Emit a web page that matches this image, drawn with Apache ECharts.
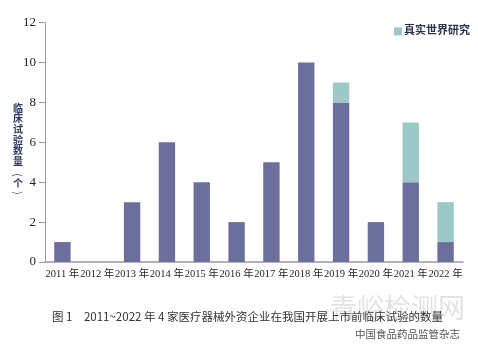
<!DOCTYPE html>
<html><head><meta charset="utf-8">
<script src="https://cdn.jsdelivr.net/npm/echarts@6/dist/echarts.min.js"></script>
<style>html,body{margin:0;padding:0;background:#fff}#c{width:478px;height:356px}</style>
</head><body><div id="c"></div>
<script>
const categories = ['2011 年','2012 年','2013 年','2014 年','2015 年','2016 年','2017 年','2018 年','2019 年','2020 年','2021 年','2022 年'];
const otherTrials = [1,0,3,6,4,2,5,10,8,2,4,1];
const realWorld = [0,0,0,0,0,0,0,0,1,0,3,2];
const yTicks = [0,2,4,6,8,10,12];
const legendName = '真实世界研究';
const yNameChars = ['临','床','试','验','数','量'];
const caption = '图 1　2011~2022 年 4 家医疗器械外资企业在我国开展上市前临床试验的数量';

const chart = echarts.init(document.getElementById('c'));
const serif = '"Liberation Serif","DejaVu Serif","Noto Sans CJK SC",serif';
const cjk = '"Noto Sans CJK SC",sans-serif';
const nameStyle = {fontFamily: cjk, fontSize: 10, fontWeight: 'bold', fill: '#2c3a60', align: 'center', verticalAlign: 'middle'};
const nameGraphics = yNameChars.map((ch, i) => ({type: 'text', x: 18, y: 108 + i * 10.6, style: Object.assign({text: ch}, nameStyle)}));
nameGraphics.push({type: 'text', x: 18, y: 175, rotation: -Math.PI / 2, style: Object.assign({text: '('}, nameStyle, {fontWeight: 'normal'})});
nameGraphics.push({type: 'text', x: 18, y: 183, style: Object.assign({text: '个'}, nameStyle)});
nameGraphics.push({type: 'text', x: 18, y: 193, rotation: -Math.PI / 2, style: Object.assign({text: ')'}, nameStyle, {fontWeight: 'normal'})});

chart.setOption({
  animation: false,
  grid: {left: 45, right: 15, top: 22.7, bottom: 94},
  legend: {
    data: [legendName], left: 389, top: 21, itemWidth: 8, itemHeight: 8, itemGap: 2,
    icon: 'rect',
    textStyle: {fontFamily: serif, fontSize: 11, fontWeight: 'bold', color: '#2c3350', padding: [0,0,0,-3]}
  },
  xAxis: {
    type: 'category', data: categories,
    axisLine: {lineStyle: {color: '#9a9a9a', width: 1.5}},
    axisTick: {show: false},
    axisLabel: {interval: 0, fontFamily: serif, fontSize: 10.5, color: '#1e1e2a', margin: 7}
  },
  yAxis: {
    type: 'value', min: 0, max: 12, interval: 2,
    axisLine: {show: true, lineStyle: {color: '#9a9a9a', width: 1}},
    axisTick: {show: true, length: 6, lineStyle: {color: '#9a9a9a'}},
    splitLine: {show: false},
    axisLabel: {fontFamily: serif, fontSize: 13, color: '#1e1e2a', margin: 9,
      formatter: v => yTicks.includes(v) ? String(v) : ''}
  },
  series: [
    {name: '其他', type: 'bar', stack: 's', data: otherTrials, barWidth: '47%',
     itemStyle: {color: '#6c6f9c'}},
    {name: legendName, type: 'bar', stack: 's', data: realWorld, barWidth: '47%',
     itemStyle: {color: '#9cc8c7'}}
  ],
  graphic: nameGraphics.concat([
    {type: 'text', left: 330, top: 294, style: {
      text: '青峪检测网', fontFamily: cjk, fontSize: 27, fill: 'rgba(190,190,190,0.45)'}},
    {type: 'text', left: 52, top: 311, style: {
      text: caption, fontFamily: cjk, fontSize: 11.5, fill: '#333333'}},
    {type: 'text', left: 355, top: 329, style: {
      text: '中国食品药品监管杂志', fontFamily: cjk, fontSize: 10.5, fill: '#555555'}}
  ])
});
</script></body></html>
